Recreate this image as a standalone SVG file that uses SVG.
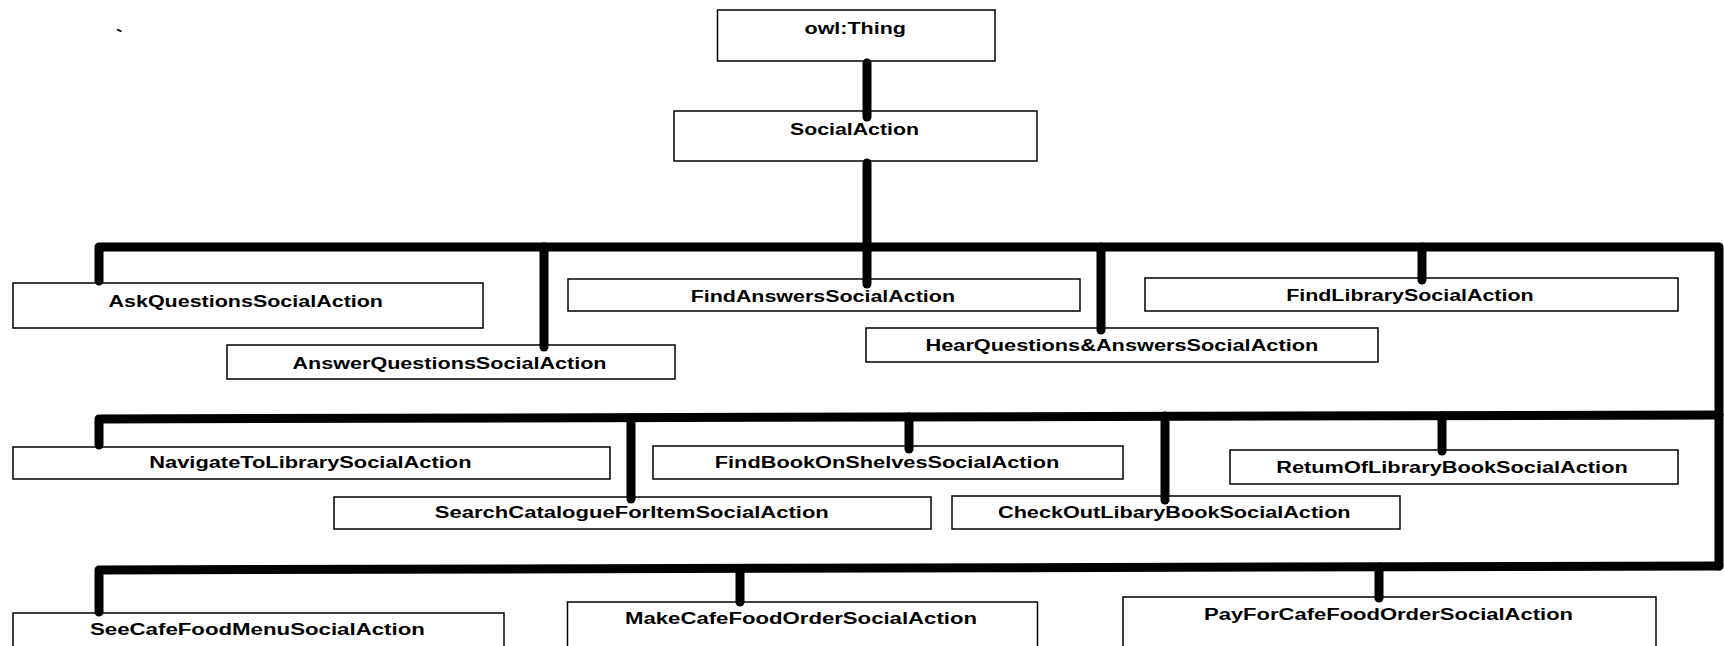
<svg xmlns="http://www.w3.org/2000/svg" width="1724" height="646" viewBox="0 0 1724 646">
<style>
.box{fill:#fff;stroke:#000;stroke-width:1.5}
.t{font-family:"Liberation Sans",Arial,sans-serif;font-weight:bold;font-size:16px;fill:#000}
.t17{font-size:17px}
.c{fill:none;stroke:#000;stroke-width:9;stroke-linecap:round;stroke-linejoin:round}
</style>
<rect width="1724" height="646" fill="#fff"/>
<path d="M117,29.5 L121.5,31.5" stroke="#000" stroke-width="1.8" fill="none"/>
<g id="owlThing"><rect class="box" x="717.5" y="10" width="277.5" height="51"/><text class="t t17" x="804.5" y="34" textLength="101.5" lengthAdjust="spacingAndGlyphs">owl:Thing</text></g>
<g id="SocialAction"><rect class="box" x="674" y="111" width="363" height="50"/><text class="t t17" x="790" y="135" textLength="129" lengthAdjust="spacingAndGlyphs">SocialAction</text></g>
<g id="AskQuestionsSocialAction"><rect class="box" x="13" y="283" width="470" height="45"/><text class="t" x="108.5" y="307" textLength="274.5" lengthAdjust="spacingAndGlyphs">AskQuestionsSocialAction</text></g>
<g id="AnswerQuestionsSocialAction"><rect class="box" x="227" y="345" width="448" height="34"/><text class="t" x="292.5" y="369" textLength="314" lengthAdjust="spacingAndGlyphs">AnswerQuestionsSocialAction</text></g>
<g id="FindAnswersSocialAction"><rect class="box" x="568" y="279" width="512" height="32"/><text class="t" x="690.7" y="301.5" textLength="264.3" lengthAdjust="spacingAndGlyphs">FindAnswersSocialAction</text></g>
<g id="HearQuestionsAnswersSocialAction"><rect class="box" x="866" y="328" width="512" height="34"/><text class="t" x="925.5" y="351" textLength="392.8" lengthAdjust="spacingAndGlyphs">HearQuestions&amp;AnswersSocialAction</text></g>
<g id="FindLibrarySocialAction"><rect class="box" x="1145" y="278" width="533" height="33"/><text class="t" x="1286.2" y="301" textLength="247.4" lengthAdjust="spacingAndGlyphs">FindLibrarySocialAction</text></g>
<g id="NavigateToLibrarySocialAction"><rect class="box" x="13" y="447" width="597" height="32"/><text class="t" x="149.3" y="468" textLength="322.2" lengthAdjust="spacingAndGlyphs">NavigateToLibrarySocialAction</text></g>
<g id="SearchCatalogueForItemSocialAction"><rect class="box" x="334" y="497" width="597" height="32"/><text class="t" x="434.8" y="518" textLength="394" lengthAdjust="spacingAndGlyphs">SearchCatalogueForItemSocialAction</text></g>
<g id="FindBookOnShelvesSocialAction"><rect class="box" x="653" y="446" width="470" height="33"/><text class="t" x="714.8" y="468" textLength="344.4" lengthAdjust="spacingAndGlyphs">FindBookOnShelvesSocialAction</text></g>
<g id="CheckOutLibaryBookSocialAction"><rect class="box" x="952" y="496" width="448" height="33"/><text class="t" x="998" y="518" textLength="352.6" lengthAdjust="spacingAndGlyphs">CheckOutLibaryBookSocialAction</text></g>
<g id="ReturnOfLibraryBookSocialAction"><rect class="box" x="1230" y="450" width="448" height="34"/><text class="t" x="1276.3" y="473" textLength="351.4" lengthAdjust="spacingAndGlyphs">RetumOfLibraryBookSocialAction</text></g>
<g id="SeeCafeFoodMenuSocialAction"><rect class="box" x="13" y="613" width="491" height="60"/><text class="t" x="90" y="635" textLength="334.8" lengthAdjust="spacingAndGlyphs">SeeCafeFoodMenuSocialAction</text></g>
<g id="MakeCafeFoodOrderSocialAction"><rect class="box" x="567.5" y="602" width="470" height="70"/><text class="t" x="625" y="624" textLength="352" lengthAdjust="spacingAndGlyphs">MakeCafeFoodOrderSocialAction</text></g>
<g id="PayForCafeFoodOrderSocialAction"><rect class="box" x="1123" y="597" width="533" height="70"/><text class="t" x="1204" y="620" textLength="369" lengthAdjust="spacingAndGlyphs">PayForCafeFoodOrderSocialAction</text></g>
<g id="connectors">
<path class="c" d="M867,63 V117"/>
<path class="c" d="M867,163 V284"/>
<path class="c" d="M99,281 V247 H1719 V566"/>
<path class="c" d="M544,247 V347"/>
<path class="c" d="M1101,247 V330"/>
<path class="c" d="M1422,247 V280"/>
<path class="c" d="M99,445 V419 L1719,415"/>
<path class="c" d="M631,418 V499"/>
<path class="c" d="M909,417 V449"/>
<path class="c" d="M1165,416 V500"/>
<path class="c" d="M1442,416 V451"/>
<path class="c" d="M99,612 V570 L1719,566"/>
<path class="c" d="M740,569 V602"/>
<path class="c" d="M1379,567 V598"/>
</g>
</svg>
